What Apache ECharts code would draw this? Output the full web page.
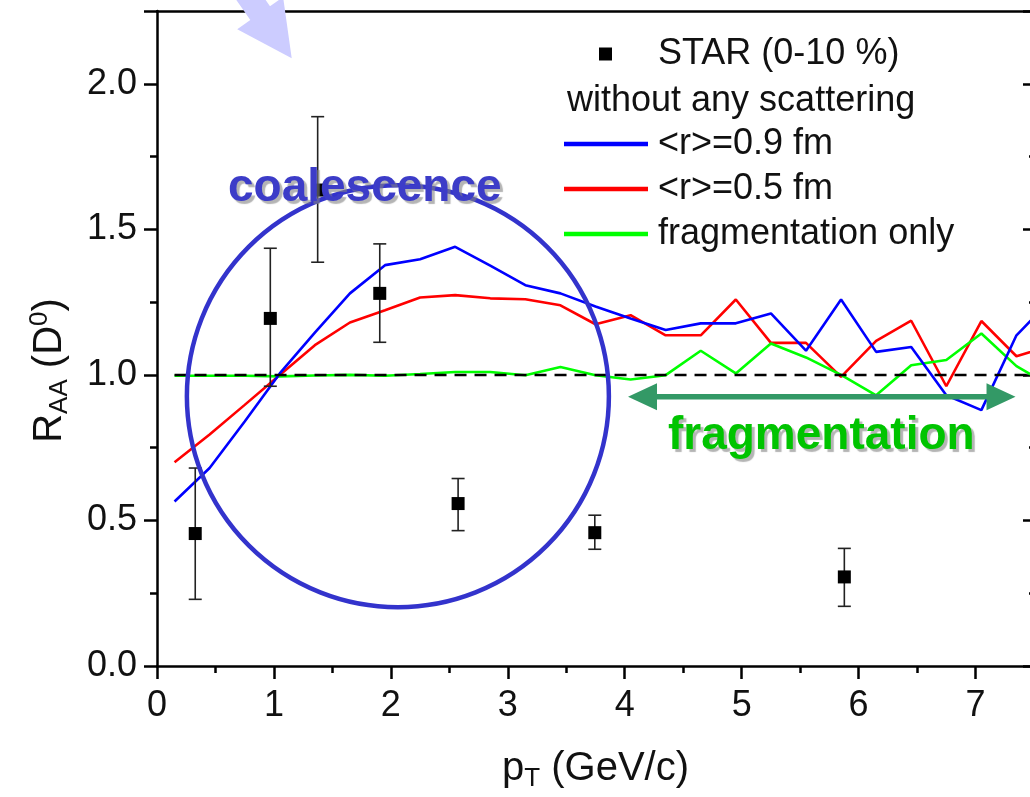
<!DOCTYPE html>
<html><head><meta charset="utf-8">
<script src="https://cdn.jsdelivr.net/npm/echarts@6/dist/echarts.min.js"></script>
<style>html,body{margin:0;padding:0;background:#fff}#c{width:1030px;height:797px}</style>
</head><body><div id="c"></div>
<script>
// ---- data ----
const ptGrid = [0.15,0.45,0.75,1.05,1.35,1.65,1.95,2.25,2.55,2.85,3.15,3.45,3.75,4.05,4.35,4.65,4.95,5.25,5.55,5.85,6.15,6.45,6.75,7.05,7.35,7.65];
const blueVals  = [0.565,0.68,0.84,1.005,1.145,1.28,1.377,1.397,1.44,1.375,1.308,1.28,1.235,1.194,1.154,1.177,1.177,1.211,1.083,1.259,1.079,1.096,0.93,0.879,1.136,1.26];
const redVals   = [0.70,0.795,0.897,1.0,1.102,1.18,1.222,1.266,1.274,1.263,1.26,1.239,1.174,1.205,1.136,1.136,1.259,1.11,1.11,0.993,1.117,1.186,0.961,1.185,1.064,1.10];
const greenVals = [0.997,0.997,0.997,0.995,0.998,1.0,0.997,1.003,1.01,1.01,0.999,1.027,0.999,0.984,0.999,1.083,1.005,1.108,1.06,1.0,0.93,1.033,1.051,1.142,1.03,0.96];
const starX  = [0.327,0.969,1.374,1.905,2.575,3.744,5.878];
const starY  = [0.455,1.194,1.635,1.280,0.558,0.458,0.306];
const starLo = [0.229,0.961,1.387,1.112,0.465,0.401,0.205];
const starHi = [0.680,1.435,1.887,1.450,0.644,0.518,0.404];
const refLevel = 1.0;
const refSpan = [0.15, 7.65];
const names = ['STAR (0-10 %)', '<r>=0.9 fm', '<r>=0.5 fm', 'fragmentation only'];

const FONT = '"Liberation Sans", Arial, sans-serif';
const chart = echarts.init(document.getElementById('c'), null, {renderer: 'canvas'});

const zip = (xs, ys) => xs.map((x, i) => [x, ys[i]]);

const nameRich = {
  n: {fontSize: 40, lineHeight: 40, fontFamily: FONT, color: '#111'},
  sub: {fontSize: 26, lineHeight: 26, padding: [20,0,0,0], fontFamily: FONT, color: '#111'},
  sup: {fontSize: 26, lineHeight: 26, padding: [0,0,20,0], fontFamily: FONT, color: '#111'}
};

const option = {
  backgroundColor: '#fff',
  animation: false,
  grid: {left: 157, top: 11, right: -4, bottom: 131, containLabel: false, outerBoundsMode: 'none'},
  xAxis: [{
    type: 'value', min: 0, max: 7.5, interval: 1, position: 'bottom',
    axisLine: {show: true, onZero: false, lineStyle: {color: '#000', width: 2.5}},
    axisTick: {show: true, inside: false, length: 13, lineStyle: {color: '#000', width: 2.5}},
    minorTick: {show: true, splitNumber: 2, length: 7, lineStyle: {color: '#000', width: 2.5}},
    splitLine: {show: false}, minorSplitLine: {show: false},
    axisLabel: {show: true, margin: 22, fontSize: 36, fontFamily: FONT, color: '#111', showMaxLabel: false,
      formatter: v => String(Math.round(v))},
    name: '{n|p}{sub|T}{n| (GeV/c)}', nameLocation: 'middle', nameGap: 83,
    nameTextStyle: {rich: nameRich}
  }, {
    type: 'value', min: 0, max: 7.5, interval: 1, position: 'top',
    axisLine: {show: true, onZero: false, lineStyle: {color: '#000', width: 2.5}},
    axisTick: {show: false}, axisLabel: {show: false}, splitLine: {show: false}
  }],
  yAxis: [{
    type: 'value', min: 0, max: 2.25, interval: 0.5, position: 'left',
    axisLine: {show: true, onZero: false, lineStyle: {color: '#000', width: 2.5}},
    axisTick: {show: true, inside: false, length: 13, lineStyle: {color: '#000', width: 2.5}},
    minorTick: {show: true, splitNumber: 2, length: 7, lineStyle: {color: '#000', width: 2.5}},
    splitLine: {show: false}, minorSplitLine: {show: false},
    axisLabel: {show: true, margin: 20, fontSize: 36, fontFamily: FONT, color: '#111', showMaxLabel: false,
      formatter: v => v.toFixed(1)},
    name: '{n|R}{sub|AA}{n| (D}{sup|0}{n|)}', nameLocation: 'middle', nameGap: 87, nameRotate: 90,
    nameTextStyle: {rich: nameRich, padding: [0, 64, 0, 0]}
  }, {
    type: 'value', min: 0, max: 2.25, interval: 0.5, position: 'right',
    axisLine: {show: true, onZero: false, lineStyle: {color: '#000', width: 2.5}},
    axisTick: {show: true, inside: true, length: 11, lineStyle: {color: '#000', width: 2.5}},
    minorTick: {show: true, splitNumber: 2, length: 5, lineStyle: {color: '#000', width: 2.5}},
    axisLabel: {show: false}, splitLine: {show: false}
  }],
  legend: [{
    data: [names[0]], left: 599, top: 34, orient: 'vertical', padding: 0,
    itemWidth: 13, itemHeight: 13, icon: 'rect',
    itemStyle: {color: '#000', opacity: 1},
    textStyle: {fontSize: 36, lineHeight: 40, fontFamily: FONT, color: '#111', padding: [0,0,0,41]},
    selectedMode: false
  }, {
    data: names.slice(1), left: 564, top: 124, orient: 'vertical', padding: 0,
    itemWidth: 84, itemHeight: 4.5, itemGap: 5, icon: 'rect',
    textStyle: {fontSize: 36, lineHeight: 40, fontFamily: FONT, color: '#111', padding: [0,0,0,5]},
    selectedMode: false
  }],
  series: [
    {
      name: names[1], type: 'line', data: zip(ptGrid, blueVals), symbol: 'none', showSymbol: false,
      lineStyle: {color: '#0000ff', width: 2.6}, itemStyle: {color: '#0000ff'}, z: 3, clip: true
    },
    {
      name: names[2], type: 'line', data: zip(ptGrid, redVals), symbol: 'none', showSymbol: false,
      lineStyle: {color: '#ff0000', width: 2.6}, itemStyle: {color: '#ff0000'}, z: 2, clip: true
    },
    {
      name: names[3], type: 'line', data: zip(ptGrid, greenVals), symbol: 'none', showSymbol: false,
      lineStyle: {color: '#00ff00', width: 2.6}, itemStyle: {color: '#00ff00'}, z: 2, clip: true
    },
    {
      name: 'ref', type: 'line', data: refSpan.map(x => [x, refLevel]), symbol: 'none', showSymbol: false,
      lineStyle: {color: '#000', width: 2.5, type: [12, 8]}, z: 4, clip: true, silent: true
    },
    {
      name: 'err', type: 'custom', z: 5, clip: false,
      data: starX.map((x, i) => [x, starLo[i], starHi[i]]),
      renderItem: (params, api) => {
        const lo = api.coord([api.value(0), api.value(1)]);
        const hi = api.coord([api.value(0), api.value(2)]);
        const w = 6.5;
        const st = {stroke: '#222', lineWidth: 1.6};
        return {type: 'group', children: [
          {type: 'line', shape: {x1: lo[0], y1: lo[1], x2: hi[0], y2: hi[1]}, style: st},
          {type: 'line', shape: {x1: lo[0]-w, y1: lo[1], x2: lo[0]+w, y2: lo[1]}, style: st},
          {type: 'line', shape: {x1: hi[0]-w, y1: hi[1], x2: hi[0]+w, y2: hi[1]}, style: st}
        ]};
      }
    },
    {
      name: names[0], type: 'scatter', data: zip(starX, starY), symbol: 'rect', symbolSize: 13,
      itemStyle: {color: '#000', opacity: 1}, z: 6
    }
  ]
};
chart.setOption(option);

// ---- annotations (anchored in data space) ----
const P = (x, y) => chart.convertToPixel({gridIndex: 0}, [x, y]);
const circC = P(2.06, 0.927);
const coalC = P(1.777, 1.642);
const fragC = P(5.681, 0.79);
const arL = P(4.028, 0.925), arR = P(7.342, 0.925);
const tip = P(1.152, 2.088);

// light-blue arrow geometry
const ang = 55 * Math.PI / 180;
const d = [Math.cos(ang), Math.sin(ang)], pp = [-Math.sin(ang), Math.cos(ang)];
const hl = 55, hw = 28, sw = 12, sl = 140;
const bx = tip[0] - hl*d[0], by = tip[1] - hl*d[1];
const blueArrow = [
  [tip[0], tip[1]],
  [bx + hw*pp[0], by + hw*pp[1]],
  [bx + sw*pp[0], by + sw*pp[1]],
  [bx + sw*pp[0] - sl*d[0], by + sw*pp[1] - sl*d[1]],
  [bx - sw*pp[0] - sl*d[0], by - sw*pp[1] - sl*d[1]],
  [bx - sw*pp[0], by - sw*pp[1]],
  [bx - hw*pp[0], by - hw*pp[1]]
];
const ahl = 29, ahw = 13.5, asw = 2.8, ay = arL[1];
const greenArrow = [
  [arL[0], ay], [arL[0]+ahl, ay-ahw], [arL[0]+ahl, ay-asw], [arR[0]-ahl, ay-asw], [arR[0]-ahl, ay-ahw],
  [arR[0], ay], [arR[0]-ahl, ay+ahw], [arR[0]-ahl, ay+asw], [arL[0]+ahl, ay+asw], [arL[0]+ahl, ay+ahw]
];

chart.setOption({
  graphic: [
    {type: 'circle', shape: {cx: circC[0], cy: circC[1], r: 211}, style: {fill: 'none', stroke: '#3333cc', lineWidth: 4.5}, z: 20},
    {type: 'polygon', shape: {points: greenArrow}, style: {fill: '#339966'}, z: 20},
    {type: 'polygon', shape: {points: blueArrow}, style: {fill: '#ccccff'}, z: 30},
    {type: 'text', x: coalC[0], y: coalC[1], z: 25,
      style: {text: 'coalescence', fill: '#3c3cc8', font: 'bold 46px ' + FONT, align: 'center', verticalAlign: 'middle',
        textShadowColor: 'rgba(130,130,130,0.6)', textShadowOffsetX: 3, textShadowOffsetY: 3, textShadowBlur: 1,
        shadowColor: 'rgba(130,130,130,0.6)', shadowOffsetX: 3, shadowOffsetY: 3, shadowBlur: 1}},
    {type: 'text', x: fragC[0], y: fragC[1], z: 25,
      style: {text: 'fragmentation', fill: '#00c400', font: 'bold 46px ' + FONT, align: 'center', verticalAlign: 'middle',
        textShadowColor: 'rgba(130,130,130,0.6)', textShadowOffsetX: 3, textShadowOffsetY: 3, textShadowBlur: 1,
        shadowColor: 'rgba(130,130,130,0.6)', shadowOffsetX: 3, shadowOffsetY: 3, shadowBlur: 1}},
    {type: 'text', left: 567, top: 83, z: 25,
      style: {text: 'without any scattering', fill: '#111', font: '36px ' + FONT}}
  ]
});
</script></body></html>
